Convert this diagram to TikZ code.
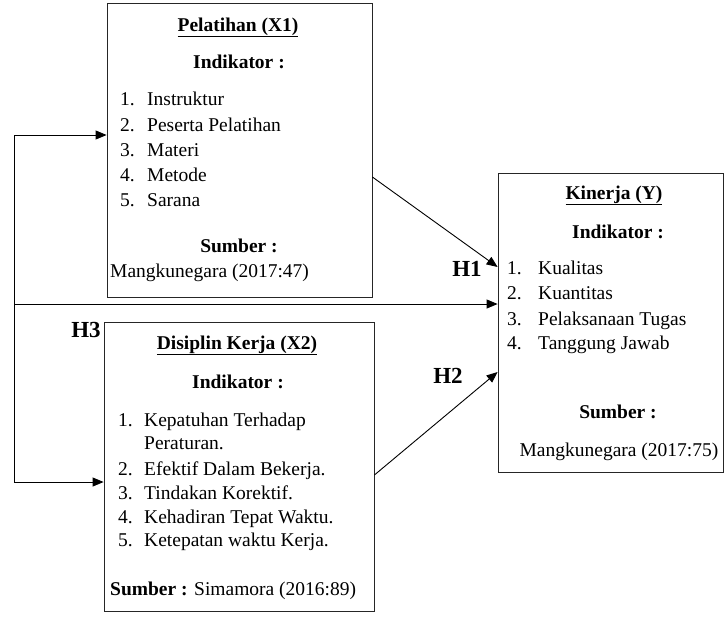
\documentclass[tikz,border=0pt]{standalone}
\usepackage{fontspec}
\setmainfont{Liberation Serif}
\newfontfamily\tnr{Liberation Serif}
\usetikzlibrary{positioning, arrows.meta, calc}

\begin{document}
\begin{tikzpicture}[
  x=1pt, y=-1pt,
  varbox/.style={draw=black!85, line width=0.8pt, inner sep=0pt},
  txt/.style={inner sep=0pt, font=\tnr\fontsize{19.5}{23}\selectfont},
  ttl/.style={txt, font=\tnr\fontsize{19.5}{23}\selectfont\bfseries},
  hlbl/.style={inner sep=0pt, font=\tnr\fontsize{23}{26}\selectfont\bfseries},
  arr/.style={-{Triangle[length=11pt, width=9pt]}, line width=0.9pt, black},
]
\useasboundingbox (0,0) rectangle (725,619);

% === Boxes ===
\node[varbox, minimum width=265pt, minimum height=294pt] (x1) at (239.5,150) {};
\node[varbox, minimum width=270pt, minimum height=289pt] (x2) at (239,466.5) {};
\node[varbox, minimum width=225pt, minimum height=299pt] (y) at (610.5,322.5) {};

% === Pelatihan (X1) ===
\node[ttl, anchor=base] (x1t) at (238,31) {\underline{Pelatihan (X1)}};
\node[ttl, anchor=base] (x1i) at (239,68) {Indikator :};
\node[txt, anchor=base west] (x1a) at (120,105) {\makebox[27pt][l]{1.}Instruktur};
\node[txt, anchor=base west] (x1b) at (120,131) {\makebox[27pt][l]{2.}Peserta Pelatihan};
\node[txt, anchor=base west] (x1c) at (120,156) {\makebox[27pt][l]{3.}Materi};
\node[txt, anchor=base west] (x1d) at (120,181) {\makebox[27pt][l]{4.}Metode};
\node[txt, anchor=base west] (x1e) at (120,206) {\makebox[27pt][l]{5.}Sarana};
\node[ttl, anchor=base] (x1s) at (239,252) {Sumber :};
\node[txt, anchor=base west] (x1r) at (110,277) {Mangkunegara (2017:47)};

% === Disiplin Kerja (X2) ===
\node[ttl, anchor=base] (x2t) at (237,349) {\underline{Disiplin Kerja (X2)}};
\node[ttl, anchor=base] (x2i) at (238,388) {Indikator :};
\node[txt, anchor=base west] (x2a) at (118,426) {\makebox[26pt][l]{1.}Kepatuhan Terhadap};
\node[txt, anchor=base west] (x2a2) at (144,449) {Peraturan.};
\node[txt, anchor=base west] (x2b) at (118,475) {\makebox[26pt][l]{2.}Efektif Dalam Bekerja.};
\node[txt, anchor=base west] (x2c) at (118,499) {\makebox[26pt][l]{3.}Tindakan Korektif.};
\node[txt, anchor=base west] (x2d) at (118,523) {\makebox[26pt][l]{4.}Kehadiran Tepat Waktu.};
\node[txt, anchor=base west] (x2e) at (118,546) {\makebox[26pt][l]{5.}Ketepatan waktu Kerja.};
\node[txt, anchor=base west] (x2s) at (110,595) {\textbf{Sumber :} Simamora (2016:89)};

% === Kinerja (Y) ===
\node[ttl, anchor=base] (yt) at (614,199) {\underline{Kinerja (Y)}};
\node[ttl, anchor=base] (yi) at (618,238) {Indikator :};
\node[txt, anchor=base west] (ya) at (507,274) {\makebox[31pt][l]{1.}Kualitas};
\node[txt, anchor=base west] (yb) at (507,299) {\makebox[31pt][l]{2.}Kuantitas};
\node[txt, anchor=base west] (yc) at (507,325) {\makebox[31pt][l]{3.}Pelaksanaan Tugas};
\node[txt, anchor=base west] (yd) at (507,349) {\makebox[31pt][l]{4.}Tanggung Jawab};
\node[ttl, anchor=base] (ys) at (618,418) {Sumber :};
\node[txt, anchor=base] (yr) at (619,456) {Mangkunegara (2017:75)};

% === Hypothesis labels ===
\node[hlbl] (h1) at (467,269) {H1};
\node[hlbl] (h2) at (448,376) {H2};
\node[hlbl] (h3) at (86,330) {H3};

% === Arrows ===
\coordinate (busTop) at (14,135);
\coordinate (busMid) at (14,304);
\coordinate (busBot) at (14,482);

\draw[arr] ([yshift=-27pt]x1.east) -- ([yshift=55.5pt]y.west);
\draw[arr] ([yshift=-8.5pt]x2.east) -- ([yshift=-49.5pt]y.west);
\draw[arr] (busTop) -- ([yshift=15pt]x1.west);
\draw[arr] (busTop) -- (busBot) -- ([yshift=-15.5pt]x2.west);
\draw[arr] (busMid) -- ([yshift=18.5pt]y.west);

\end{tikzpicture}
\end{document}
